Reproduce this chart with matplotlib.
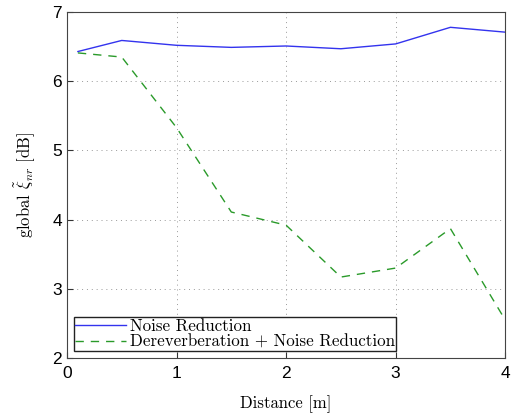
import numpy as np
import matplotlib.pyplot as plt

plt.rcParams['mathtext.fontset'] = 'cm'

distance = [0.1, 0.5, 1.0, 1.5, 2.0, 2.5, 3.0, 3.5, 4.0]
noise_red = [6.43, 6.59, 6.52, 6.49, 6.51, 6.47, 6.54, 6.78, 6.71]
derev_noise_red = [6.41, 6.35, 5.33, 4.11, 3.92, 3.17, 3.30, 3.87, 2.55]
labels = ['Noise Reduction', 'Dereverberation + Noise Reduction']

fig = plt.figure(figsize=(5.15, 4.17), dpi=100)
ax = fig.add_axes([0.130, 0.1415, 0.851, 0.8295])

ax.plot(distance, noise_red, color='#3333ee', lw=1.0, label=labels[0])
ax.plot(distance, derev_noise_red, color='#2a9a2a', lw=1.0, ls=(0, (6, 5)), label=labels[1])

ax.set_xlim(0, 4)
ax.set_ylim(2, 7)
ax.set_xticks([0, 1, 2, 3, 4])
ax.set_yticks([2, 3, 4, 5, 6, 7])
ax.grid(True, ls=(0, (1, 4)), color='#999999', lw=0.7)
ax.tick_params(direction='in', length=4, labelsize=12.5, color='#333333')
ax.tick_params(axis='x', pad=6)
for lab in ax.get_xticklabels() + ax.get_yticklabels():
    lab.set_family('Liberation Sans')
for s in ax.spines.values():
    s.set_color('#444444')

ax.set_xlabel('Distance [m]', family='cmr10', fontsize=12, labelpad=10)
ax.set_ylabel(r'global $\tilde{\xi}_{nr}$ [dB]', family='cmr10', fontsize=12, labelpad=10)

leg = ax.legend(loc='lower left', prop={'family': 'cmr10', 'size': 12.2},
                fancybox=False, edgecolor='#222222', framealpha=1,
                handlelength=3.0, handletextpad=0.2, labelspacing=0.0,
                borderpad=0.1, borderaxespad=0.4)
leg.get_frame().set_linewidth(1.0)

fig.savefig('out.png', dpi=100)
